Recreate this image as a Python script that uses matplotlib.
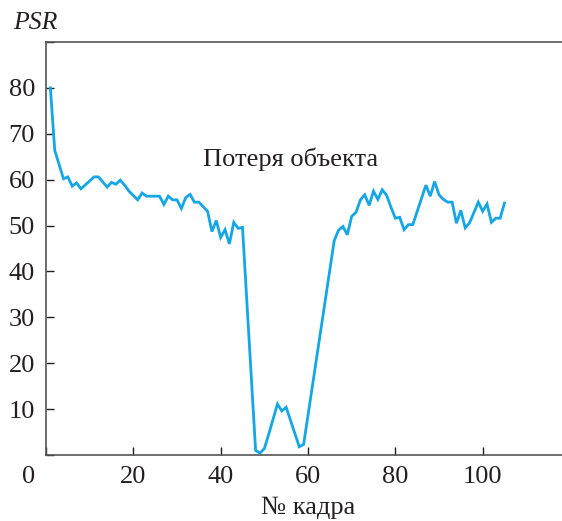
import numpy as np
import matplotlib.pyplot as plt
import matplotlib.transforms as mtransforms

# Номера кадров и значения PSR
frames = [1, 2, 4, 5, 6, 7, 8, 11, 12, 14, 15, 16, 17, 18, 19, 21, 22, 23, 26,
          27, 28, 29, 30, 31, 32, 33, 34, 35, 37, 38, 39, 40, 41, 42, 43, 44, 45,
          48, 49, 50, 51, 53, 54, 55, 58, 59, 66, 67, 68, 69, 70, 71, 72, 73, 74,
          75, 76, 77, 78, 79, 80, 81, 82, 83, 84, 87, 88, 89, 90, 91, 92, 93, 94,
          95, 96, 97, 99, 100, 101, 102, 103, 104, 105]
psr = [80.0, 66.4, 60.2, 60.6, 58.6, 59.3, 58.0, 60.6, 60.6, 58.4, 59.4, 59.0,
       59.9, 58.8, 57.5, 55.6, 57.1, 56.4, 56.4, 54.6, 56.4, 55.6, 55.6, 53.7,
       56.1, 56.8, 55.1, 55.1, 53.1, 48.7, 51.1, 47.4, 49.1, 46.0, 50.7, 49.4,
       49.6, 1.0, 0.4, 1.4, 4.5, 11.1, 9.6, 10.4, 1.8, 2.3, 46.7, 49.0, 49.8,
       48.0, 52.0, 52.9, 55.6, 56.7, 54.4, 57.5, 55.7, 57.8, 56.6, 54.0, 51.6,
       51.8, 49.1, 50.2, 50.2, 58.8, 56.4, 59.6, 56.7, 55.7, 55.1, 55.1, 50.5,
       53.3, 49.5, 50.6, 55.1, 53.1, 54.7, 50.7, 51.6, 51.6, 54.9]

xticks = [0, 20, 40, 60, 80, 100]
yticks = [0, 10, 20, 30, 40, 50, 60, 70, 80, 90]

plt.rcParams['font.family'] = ['Liberation Serif', 'DejaVu Serif']
fs = 19

fig = plt.figure(figsize=(5.62, 5.21), dpi=100)
ax = fig.add_axes([46 / 562, 66 / 521, 524 / 562, 413 / 521])

ax.plot(frames, psr, color='#14a6e5', lw=2.0, solid_joinstyle='miter')

ax.set_xlim(0, 120)
ax.set_ylim(0, 89.8)

ax.set_xticks(xticks)
ax.set_xticklabels([''] + [str(t) for t in xticks[1:]])
ax.set_yticks(yticks)
ax.set_yticklabels(['' if t in (0, 90) else str(t) for t in yticks])

ax.tick_params(direction='in', length=6, width=1.0, color='#231f20',
               labelsize=fs, labelcolor='#231f20')
ax.tick_params(axis='x', pad=8)
ax.tick_params(axis='y', pad=8)

ax.spines['right'].set_visible(False)
for s in ['left', 'bottom', 'top']:
    ax.spines[s].set_color('#555555')
    ax.spines[s].set_linewidth(1.2)

# подпись "0" в углу, левее оси
trans = mtransforms.blended_transform_factory(ax.transData, ax.transAxes)
ax.text(-4.1, 0.0, '0', fontsize=fs, color='#231f20', ha='center', va='top',
        transform=trans + mtransforms.ScaledTranslation(0, -8 / 72, fig.dpi_scale_trans))

ax.text(56, 62.9, 'Потеря объекта', fontsize=fs, color='#231f20',
        ha='center', va='baseline')

fig.text(13 / 562, 1 - 23 / 521, 'PSR', fontsize=18.5, style='italic',
         color='#231f20', ha='left', va='center')
fig.text(308 / 562, 0.003, '№ кадра', fontsize=fs, color='#231f20',
         ha='center', va='bottom')

fig.savefig('out.png', dpi=100)
